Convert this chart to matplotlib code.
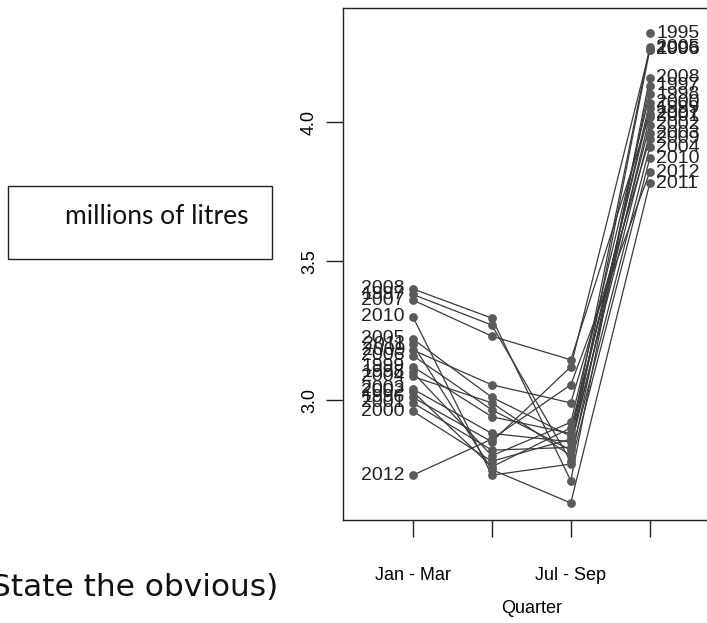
import numpy as np
import matplotlib
matplotlib.use("Agg")
import matplotlib.pyplot as plt
from matplotlib.patches import Rectangle

# ----- data (millions of litres, by quarter) -----
quarters = ["Jan - Mar", "Apr - Jun", "Jul - Sep", "Oct - Dec"]
years = list(range(1995, 2013))

q1 = [None, 3.01, 3.38, 3.10, 3.12, 2.96, 2.99, 3.03, 3.04, 3.085,
      3.22, 3.16, 3.36, 3.40, 3.18, 3.30, 3.20, 2.73]
q2 = [None, 2.85, 3.27, 2.80, 2.94, 2.78, 2.82, 2.76, 2.88, 2.99,
      3.01, 2.965, 3.23, 3.295, 3.055, 2.73, 2.75, 2.86]
q3 = [None, 3.12, 2.78, 2.92, 2.88, 2.86, 2.83, 2.90, 2.85, 2.80,
      2.87, 2.82, 3.145, 2.71, 2.99, 2.77, 2.63, 3.055]
q4 = [4.32, 4.26, 4.13, 4.10, 4.05, 4.07, 4.02, 3.99, 3.96, 3.91,
      4.27, 4.26, 4.03, 4.16, 3.94, 3.87, 3.78, 3.82]

line_col = "#3a3a3a"
pt_col = "#5a5a5a"

fig = plt.figure(figsize=(7.07, 6.23), dpi=100)
ax = fig.add_axes([0.485, 0.165, 0.533, 0.822])

xs = np.arange(1, 5)
for i, yr in enumerate(years):
    vals = [q1[i], q2[i], q3[i], q4[i]]
    px = [x for x, v in zip(xs, vals) if v is not None]
    pv = [v for v in vals if v is not None]
    ax.plot(px, pv, color=line_col, lw=0.9, zorder=2)
    ax.scatter(px, pv, s=40, color=pt_col, zorder=3, linewidths=0)
    if q1[i] is not None:
        ax.text(1 - 0.1, q1[i], str(yr), ha="right", va="center",
                fontsize=14, family="Liberation Sans", color="#222222")
    ax.text(4 + 0.08, q4[i], str(yr), ha="left", va="center",
            fontsize=14, family="Liberation Sans", color="#222222")

ax.set_xlim(0.114, 4.886)
ax.set_ylim(2.568, 4.41)
ax.set_xticks(xs)
ax.set_xticklabels(["Jan - Mar", "", "Jul - Sep", ""],
                   fontsize=13, family="Liberation Sans")
ax.set_yticks([3.0, 3.5, 4.0])
ax.set_yticklabels(["3.0", "3.5", "4.0"], rotation=90, va="center",
                   fontsize=13, family="Liberation Sans")
ax.tick_params(axis="both", direction="out", length=12, width=1, color="#222222")
ax.tick_params(axis="x", pad=22)
ax.tick_params(axis="y", pad=6)
ax.set_xlabel("Quarter", fontsize=13, family="Liberation Sans", labelpad=11)
for s in ax.spines.values():
    s.set_linewidth(1.0)
    s.set_color("#222222")

# ----- slide annotations -----
fig.patches.append(Rectangle((8 / 707, 1 - 259 / 623), 264 / 707, 73 / 623,
                             transform=fig.transFigure, fill=False,
                             edgecolor="#222222", lw=1.0))
fig.text(157 / 707, 1 - 216 / 623, "millions of litres", ha="center",
         va="center", fontsize=19, family="Lato", color="#111111")
fig.text(-21 / 707, 1 - 588 / 623, "(State the obvious)", ha="left",
         va="center", fontsize=22.5, family="DejaVu Sans", color="#111111")

fig.savefig("out.png", dpi=100)
